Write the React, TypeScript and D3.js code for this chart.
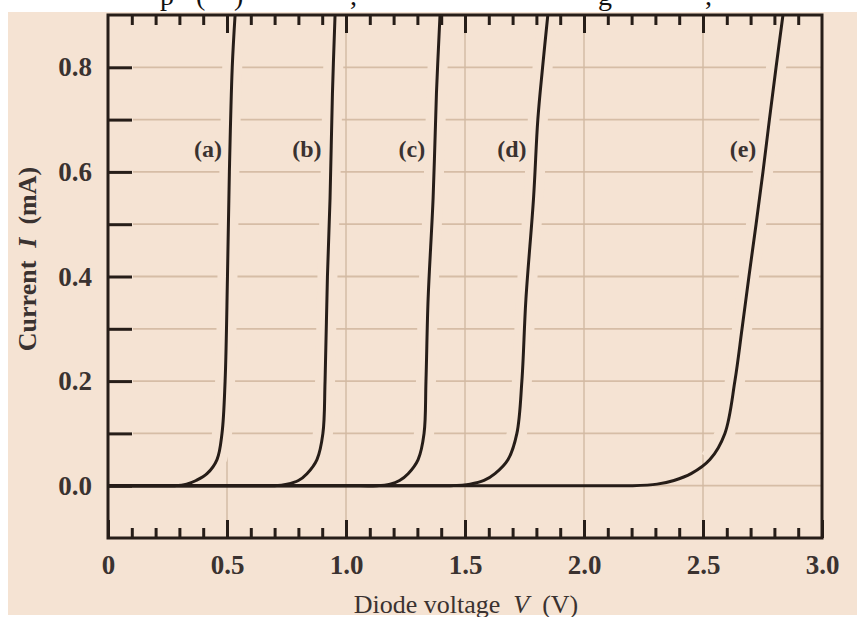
import React, { useEffect, useRef } from 'react';
import * as d3 from 'd3';

// diode I-V curves: [voltage V, current mA]
const curveA = [[0, 0], [0.2, 0], [0.28, 0], [0.33, 0.003], [0.37, 0.01], [0.416, 0.023], [0.458, 0.05], [0.479, 0.1], [0.492, 0.2], [0.502, 0.4], [0.51, 0.6], [0.522, 0.8], [0.534, 0.9]];
const curveB = [[0, 0], [0.6, 0], [0.7, 0], [0.752, 0.003], [0.8, 0.01], [0.836, 0.023], [0.878, 0.05], [0.903, 0.1], [0.912, 0.2], [0.922, 0.4], [0.933, 0.55], [0.943, 0.75], [0.954, 0.9]];
const curveC = [[0, 0], [1.0, 0], [1.13, 0], [1.185, 0.003], [1.225, 0.01], [1.261, 0.023], [1.303, 0.05], [1.328, 0.1], [1.336, 0.2], [1.345, 0.357], [1.366, 0.55], [1.38, 0.75], [1.395, 0.9]];
const curveD = [[0, 0], [1.3, 0], [1.44, 0], [1.521, 0.003], [1.58, 0.01], [1.626, 0.023], [1.681, 0.05], [1.718, 0.1], [1.739, 0.2], [1.756, 0.357], [1.788, 0.55], [1.806, 0.7], [1.826, 0.8], [1.848, 0.9]];
const curveE = [[0, 0], [2.0, 0], [2.2, 0], [2.307, 0.003], [2.378, 0.01], [2.45, 0.023], [2.529, 0.05], [2.592, 0.1], [2.634, 0.2], [2.664, 0.3], [2.693, 0.4], [2.723, 0.5], [2.752, 0.6], [2.779, 0.7], [2.807, 0.8], [2.836, 0.9]];

const curves = [curveA, curveB, curveC, curveD, curveE];
const curveNames = ['(a)', '(b)', '(c)', '(d)', '(e)'];
// where each name sits, in data units
const nameAt = [[0.42, 0.645], [0.836, 0.645], [1.277, 0.645], [1.697, 0.645], [2.668, 0.645]];

const xMajor = [0, 0.5, 1.0, 1.5, 2.0, 2.5, 3.0];
const xMajorLabels = ['0', '0.5', '1.0', '1.5', '2.0', '2.5', '3.0'];
const xMinor = d3.range(1, 30).filter(i => i % 5 !== 0).map(i => i / 10);
const yTicks = [0, 0.1, 0.2, 0.3, 0.4, 0.5, 0.6, 0.7, 0.8];
const yMajor = [0, 0.2, 0.4, 0.6, 0.8];
const yMajorLabels = ['0.0', '0.2', '0.4', '0.6', '0.8'];
const xGrid = [0.5, 1.0, 1.5, 2.0, 2.5];

const serif = '"Liberation Serif", "Times New Roman", serif';
const ink = '#261d18';
const paper = '#f5e3d3';
const gridColor = '#d6bda6';

const App = () => {
  const ref = useRef<SVGSVGElement>(null);

  useEffect(() => {
    const svg = d3.select(ref.current);
    svg.selectAll('*').remove();

    const W = 857;
    const H = 617;
    const left = 108, right = 822, top = 15, bottom = 538;

    const x = d3.scaleLinear().domain([0, 3]).range([left, right]);
    const y = d3.scaleLinear().domain([-0.1, 0.9]).range([bottom, top]);

    svg.append('rect').attr('width', W).attr('height', H).attr('fill', '#ffffff');
    svg.append('rect').attr('x', 8).attr('y', 12).attr('width', W - 8).attr('height', 603).attr('fill', paper);

    // clipped line of text from the page above the figure
    const topText = svg.append('text')
      .attr('y', 5)
      .attr('font-family', serif)
      .attr('font-size', 28)
      .attr('fill', '#111');
    [['p', 160], ['(', 196], [')', 234], [',', 350], ['g', 598], [',', 705]].forEach(([t, px]) => {
      topText.append('tspan').attr('x', px as number).text(t as string);
    });

    svg.append('defs').append('clipPath').attr('id', 'plotClip')
      .append('rect').attr('x', left).attr('y', top).attr('width', right - left).attr('height', bottom - top);

    // grid
    const grid = svg.append('g');
    grid.selectAll('.hg').data(yTicks).enter().append('line')
      .attr('x1', left + 25).attr('x2', right)
      .attr('y1', d => y(d)).attr('y2', d => y(d))
      .attr('stroke', gridColor).attr('stroke-width', 1.8);
    grid.selectAll('.vg').data(xGrid).enter().append('line')
      .attr('x1', d => x(d)).attr('x2', d => x(d))
      .attr('y1', top).attr('y2', bottom)
      .attr('stroke', '#d2b9a3').attr('stroke-width', 1.4);

    const line = d3.line<number[]>()
      .x(d => x(d[0]))
      .y(d => y(d[1]))
      .curve(d3.curveCatmullRom.alpha(0.5));

    const plot = svg.append('g').attr('clip-path', 'url(#plotClip)');

    // paper-coloured halo that breaks the grid next to the steep parts
    plot.selectAll('.halo').data(curves).enter().append('path')
      .attr('d', d => line(d.filter(p => p[1] >= 0.04)))
      .attr('fill', 'none')
      .attr('stroke', paper)
      .attr('stroke-width', 20);

    plot.selectAll('.curve').data(curves).enter().append('path')
      .attr('d', d => line(d))
      .attr('fill', 'none')
      .attr('stroke', ink)
      .attr('stroke-width', 3);

    // frame
    svg.append('rect')
      .attr('x', left).attr('y', top)
      .attr('width', right - left).attr('height', bottom - top)
      .attr('fill', 'none').attr('stroke', ink).attr('stroke-width', 3);

    const styleAxis = (g: any) => {
      g.select('.domain').remove();
      g.selectAll('.tick line').attr('stroke', ink).attr('stroke-width', 3);
      g.selectAll('.tick text')
        .attr('font-family', serif)
        .attr('font-size', 27)
        .attr('font-weight', 'bold')
        .attr('fill', '#3a3230');
    };

    svg.append('g').attr('transform', `translate(0,${bottom})`)
      .call(d3.axisBottom(x).tickValues(xMinor).tickSize(-10).tickFormat(() => ''))
      .call(styleAxis);
    svg.append('g').attr('transform', `translate(0,${bottom})`)
      .call(d3.axisBottom(x).tickValues(xMajor).tickSize(-18).tickPadding(17)
        .tickFormat((d, i) => xMajorLabels[i]))
      .call(styleAxis);
    svg.append('g').attr('transform', `translate(0,${top})`)
      .call(d3.axisTop(x).tickValues(xMinor).tickSize(-10).tickFormat(() => ''))
      .call(styleAxis);
    svg.append('g').attr('transform', `translate(0,${top})`)
      .call(d3.axisTop(x).tickValues(xMajor.slice(1, -1)).tickSize(-18).tickFormat(() => ''))
      .call(styleAxis);
    svg.append('g').attr('transform', `translate(${left},0)`)
      .call(d3.axisLeft(y).tickValues(yTicks).tickSize(-24).tickFormat(() => ''))
      .call(styleAxis);
    svg.append('g').attr('transform', `translate(${left},0)`)
      .call(d3.axisLeft(y).tickValues(yMajor).tickSize(0).tickPadding(16)
        .tickFormat((d, i) => yMajorLabels[i]))
      .call(styleAxis);

    // curve names
    svg.append('g').selectAll('text').data(curveNames).enter().append('text')
      .attr('x', (d, i) => x(nameAt[i][0]))
      .attr('y', (d, i) => y(nameAt[i][1]))
      .attr('dy', '0.35em')
      .attr('text-anchor', 'middle')
      .attr('font-family', serif)
      .attr('font-size', 24)
      .attr('font-weight', 'bold')
      .attr('fill', '#3a3230')
      .text(d => d);

    // axis titles
    const xt = svg.append('text')
      .attr('x', 466).attr('y', 613)
      .attr('text-anchor', 'middle')
      .attr('font-family', serif)
      .attr('font-size', 26)
      .attr('fill', '#3a3230')
      .attr('xml:space', 'preserve');
    xt.append('tspan').text('Diode voltage  ');
    xt.append('tspan').attr('font-style', 'italic').text('V');
    xt.append('tspan').text('  (V)');

    const yt = svg.append('text')
      .attr('transform', 'translate(36,259) rotate(-90)')
      .attr('text-anchor', 'middle')
      .attr('font-family', serif)
      .attr('font-size', 26)
      .attr('font-weight', 'bold')
      .attr('fill', '#3a3230')
      .attr('xml:space', 'preserve');
    yt.append('tspan').text('Current  ');
    yt.append('tspan').attr('font-style', 'italic').text('I');
    yt.append('tspan').text('  (mA)');
  }, []);

  return (
    <svg ref={ref} width={857} height={617}
      style={{ position: 'absolute', left: 0, top: 0, display: 'block' }} />
  );
};

export default App;
